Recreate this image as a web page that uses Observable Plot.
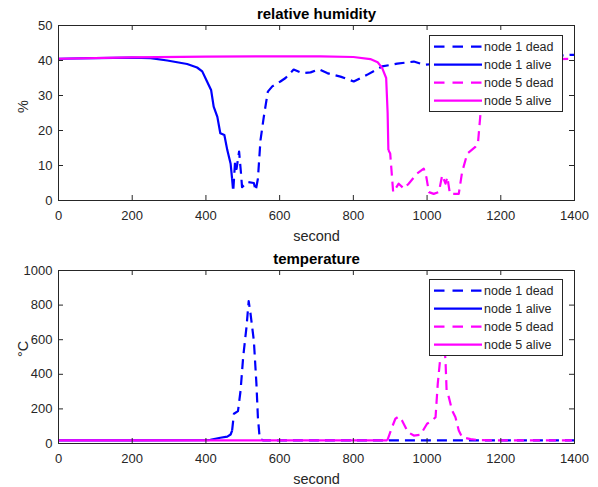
<!DOCTYPE html>
<html><head><meta charset="utf-8">
<script src="https://cdn.jsdelivr.net/npm/d3@7"></script>
<script src="https://cdn.jsdelivr.net/npm/@observablehq/plot@0.6"></script>
<style>
body{margin:0;background:#fff;}
#wrap{position:relative;width:598px;height:487px;font-family:"Liberation Sans",Arial,Helvetica,sans-serif;}
#wrap svg{display:block;}
.legend{position:absolute;}
</style>
</head><body><div id="wrap"></div>
<script>
// ---------- data ----------
const seriesNames = ["node 1 dead", "node 1 alive", "node 5 dead", "node 5 alive"];
const seriesColors = ["#0000ff", "#0000ff", "#ff00ff", "#ff00ff"];
const seriesDashed = [true, false, true, false];
const xTicks = [0, 200, 400, 600, 800, 1000, 1200, 1400];
const humTicks = [0, 10, 20, 30, 40, 50];
const tempTicks = [0, 200, 400, 600, 800, 1000];

// relative humidity (%)
const humN1DeadT = [471, 474, 479, 483, 490, 495, 498, 512, 530, 535, 541, 548, 557, 568, 580, 602, 616, 638, 661, 684, 706, 729, 738, 765, 801, 837, 878, 919, 964, 991, 1020, 1100, 1200, 1300, 1389, 1400];
const humN1DeadV = [6.2, 2.5, 11, 9, 14, 8, 3.8, 5.3, 5, 2.8, 6.2, 17.2, 23.9, 31.1, 32.6, 34.0, 35.0, 37.4, 36.4, 36.6, 37.5, 36.4, 36.1, 35.4, 34.0, 35.9, 38.3, 39.1, 39.7, 38.8, 39.0, 40.0, 40.5, 41.0, 41.6, 41.6];
const humN1AliveT = [0, 100, 200, 250, 295, 322, 349, 376, 390, 403, 414, 421, 431, 439, 450, 458, 467, 471];
const humN1AliveV = [40.5, 40.7, 40.8, 40.7, 40.0, 39.5, 39.0, 38.0, 36.9, 34.0, 31.6, 26.8, 23.9, 19.2, 18.7, 14.4, 10.5, 6.2];
const humN5DeadT = [895, 900, 908, 923, 937, 950, 973, 991, 998, 1005, 1018, 1032, 1041, 1050, 1055, 1062, 1086, 1095, 1109, 1131, 1138, 1145, 1150, 1170, 1200, 1300, 1400];
const humN5DeadV = [14.4, 13.4, 2.4, 4.8, 3.4, 4.8, 7.7, 9.1, 6.7, 2.4, 1.9, 2.4, 7.2, 4.8, 6.7, 1.9, 1.9, 8.1, 13.4, 15.3, 16.3, 24.9, 29.7, 37, 40, 40.3, 40.5];
const humN5AliveT = [0, 200, 400, 600, 711, 800, 846, 866, 878, 889, 893, 895];
const humN5AliveV = [40.5, 40.9, 41.1, 41.2, 41.2, 41.0, 40.4, 39.5, 37.9, 35.0, 25, 14.4];

// temperature (°C)
const tmpN1DeadT = [471, 476, 487, 494, 501, 510, 516, 521, 530, 537, 541, 546, 556, 800, 1000, 1200, 1400];
const tmpN1DeadV = [75, 172, 187, 306, 499, 672, 823, 750, 595, 345, 152, 27, 18, 18, 18, 18, 18];
const tmpN1AliveT = [0, 200, 400, 412, 439, 458, 467, 471];
const tmpN1AliveV = [18, 18, 20, 21, 33, 40, 52, 75];
const tmpN5DeadT = [892, 905, 914, 923, 932, 948, 964, 982, 1000, 1014, 1023, 1029, 1036, 1042, 1047, 1050, 1053, 1059, 1068, 1077, 1086, 1095, 1118, 1145, 1200, 1300, 1400];
const tmpN5DeadV = [17, 94, 143, 156, 133, 66, 46, 50, 114, 133, 152, 345, 499, 620, 560, 480, 306, 268, 191, 152, 75, 36, 25, 19, 18, 18, 18];
const tmpN5AliveT = [0, 200, 400, 600, 800, 892];
const tmpN5AliveV = [18, 18, 18, 18, 18, 18];

const zip = (T, V) => T.map((t, i) => ({t, v: V[i]}));
const humSeries = [zip(humN1DeadT, humN1DeadV), zip(humN1AliveT, humN1AliveV), zip(humN5DeadT, humN5DeadV), zip(humN5AliveT, humN5AliveV)];
const tmpSeries = [zip(tmpN1DeadT, tmpN1DeadV), zip(tmpN1AliveT, tmpN1AliveV), zip(tmpN5DeadT, tmpN5DeadV), zip(tmpN5AliveT, tmpN5AliveV)];

// ---------- drawing ----------
const W = 598, mL = 58, mR = 24;
const AX = "#262626";
const FONT = '"Liberation Sans", Arial, Helvetica, sans-serif';

function panel({series, yDomain, yTicks, ylabel, title, height, marginTop, marginBottom}) {
  const innerH = height - marginTop - marginBottom;
  const innerW = W - mL - mR;
  const lines = series.map((d, i) => Plot.line(d, {
    x: "t", y: "v", stroke: seriesColors[i], strokeWidth: 2.2,
    strokeDasharray: seriesDashed[i] ? "10,6" : null,
    strokeLinecap: "butt", strokeLinejoin: "round"
  }));
  return Plot.plot({
    width: W, height, marginLeft: mL, marginRight: mR, marginTop, marginBottom,
    style: {fontFamily: FONT, background: "white", overflow: "visible"},
    x: {domain: [0, 1400]},
    y: {domain: yDomain},
    marks: [
      ...lines,
      Plot.frame({stroke: AX, strokeWidth: 1}),
      Plot.tickX(xTicks, {x: d => d, stroke: AX, insetTop: innerH - 5}),
      Plot.tickX(xTicks, {x: d => d, stroke: AX, insetBottom: innerH - 5}),
      Plot.tickY(yTicks, {y: d => d, stroke: AX, insetRight: innerW - 5}),
      Plot.tickY(yTicks, {y: d => d, stroke: AX, insetLeft: innerW - 5}),
      Plot.axisX({ticks: xTicks, tickSize: 0, tickPadding: 10, fontSize: 13, fill: AX, label: null, tickFormat: d => String(d)}),
      Plot.axisY({ticks: yTicks, tickSize: 0, tickPadding: 6, fontSize: 13, fill: AX, label: null, tickFormat: d => String(d)}),
      Plot.text([title], {text: d => d, frameAnchor: "top", dy: -11, fontWeight: "bold", fontSize: 15, fill: "#000", lineAnchor: "middle"}),
      Plot.text(["second"], {text: d => d, frameAnchor: "bottom", dy: 36, fontSize: 14.5, fill: AX, lineAnchor: "middle"}),
      Plot.text([ylabel], {text: d => d, frameAnchor: "left", dx: -35, rotate: -90, fontSize: 14.5, fill: AX, lineAnchor: "middle"})
    ]
  });
}

function legend(top) {
  const lw = 133, lh = 76, left = 429;
  const div = d3.select("#wrap").append("div").attr("class", "legend")
    .style("left", left + "px").style("top", top + "px");
  const svg = div.append("svg").attr("width", lw + 1).attr("height", lh + 1);
  svg.append("rect").attr("x", 0.5).attr("y", 0.5).attr("width", lw).attr("height", lh)
    .attr("fill", "white").attr("stroke", AX).attr("stroke-width", 1);
  seriesNames.forEach((name, i) => {
    const y = 11.7 + i * 18;
    svg.append("line").attr("x1", 5).attr("x2", 53).attr("y1", y).attr("y2", y)
      .attr("stroke", seriesColors[i]).attr("stroke-width", 2.2)
      .attr("stroke-dasharray", seriesDashed[i] ? "10.5,8" : null);
    svg.append("text").attr("x", 55).attr("y", y).attr("dy", "0.35em")
      .attr("font-size", 12.5).attr("font-family", FONT).attr("fill", AX).text(name);
  });
}

const wrap = document.getElementById("wrap");
wrap.appendChild(panel({series: humSeries, yDomain: [0, 50], yTicks: humTicks, ylabel: "%", title: "relative humidity", height: 245, marginTop: 25, marginBottom: 45}));
wrap.appendChild(panel({series: tmpSeries, yDomain: [0, 1000], yTicks: tempTicks, ylabel: "°C", title: "temperature", height: 242, marginTop: 25, marginBottom: 44}));
legend(35);
legend(279);
</script></body></html>
